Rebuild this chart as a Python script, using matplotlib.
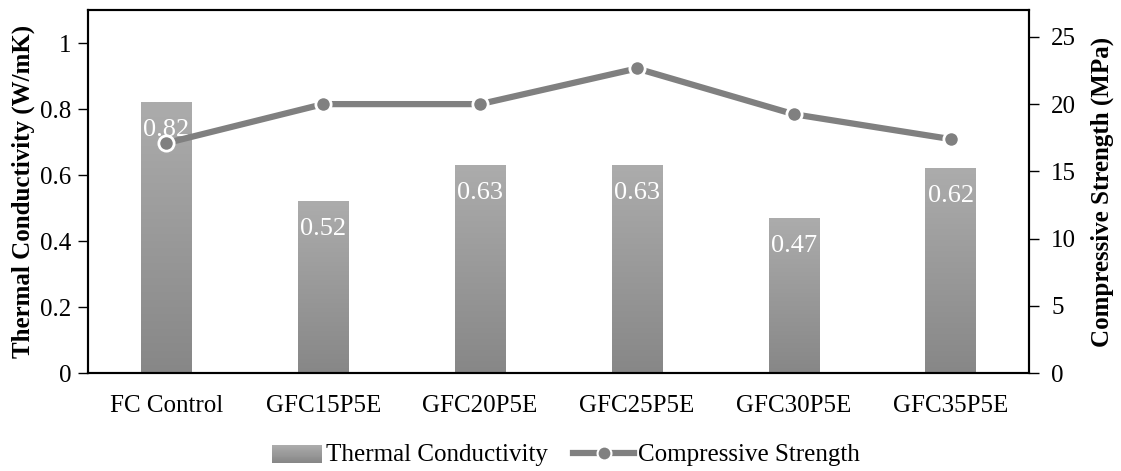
import numpy as np
import matplotlib
matplotlib.use("Agg")
import matplotlib.pyplot as plt
from matplotlib.patches import Rectangle
from matplotlib.lines import Line2D
from matplotlib.colors import LinearSegmentedColormap

plt.rcParams['font.family'] = ['Liberation Serif', 'DejaVu Serif']

mixes = ['FC Control', 'GFC15P5E', 'GFC20P5E', 'GFC25P5E', 'GFC30P5E', 'GFC35P5E']
conductivity = [0.82, 0.52, 0.63, 0.63, 0.47, 0.62]
strength = [17.1, 20.0, 20.0, 22.65, 19.25, 17.4]

grey_fade = LinearSegmentedColormap.from_list('grey_fade', ['#878787', '#acacac'])
line_col = '#808080'
fs = 18

fig = plt.figure(figsize=(11.21, 4.71), dpi=100)
ax = fig.add_axes([88/1121, 1 - 373/471, 941/1121, 363/471])
ax2 = ax.twinx()

x = np.arange(len(mixes))
width = 0.32
grad = np.linspace(0, 1, 256).reshape(-1, 1)

for xi, v in zip(x, conductivity):
    rect = Rectangle((xi - width/2, 0), width, v, facecolor='none', edgecolor='none')
    ax.add_patch(rect)
    im = ax.imshow(grad, cmap=grey_fade, origin='lower', aspect='auto',
                   extent=(xi - width/2, xi + width/2, 0, v), zorder=1)
    im.set_clip_path(rect)
    ax.text(xi, v - 0.085, f'{v:.2f}', ha='center', va='center',
            color='white', fontsize=19, zorder=2)

ax.set_xlim(-0.5, len(mixes) - 0.5)
ax.set_ylim(0, 1.1)
ax.set_yticks([0, 0.2, 0.4, 0.6, 0.8, 1])
ax.set_yticklabels(['0', '0.2', '0.4', '0.6', '0.8', '1'])
ax.set_xticks(x)
ax.set_xticklabels(mixes)
ax.tick_params(axis='x', length=0, pad=16, labelsize=fs)
ax.tick_params(axis='y', length=7, width=1, direction='out', pad=5, labelsize=fs)
ax.set_ylabel('Thermal Conductivity (W/mK)', fontsize=fs, fontweight='bold', labelpad=4)

ax2.plot(x, strength, color=line_col, linewidth=4.5, marker='o', markersize=11,
         markerfacecolor=line_col, markeredgecolor='white', markeredgewidth=2,
         solid_capstyle='butt', zorder=3)
ax2.set_ylim(0, 27)
ax2.set_yticks([0, 5, 10, 15, 20, 25])
ax2.tick_params(axis='y', length=7, width=1, direction='out', pad=9, labelsize=fs)
ax2.set_ylabel('Compressive Strength (MPa)', fontsize=fs, fontweight='bold', labelpad=10)

for a in (ax, ax2):
    for s in a.spines.values():
        s.set_linewidth(1.5)
        s.set_color('black')

class GradientHandler:
    def legend_artist(self, legend, orig_handle, fontsize, handlebox):
        x0, y0 = handlebox.xdescent, handlebox.ydescent
        w, h = handlebox.width, handlebox.height
        bw = w * 0.82
        n = 20
        for i in range(n):
            r = Rectangle((w - bw, y0 + h * i / n - 1), bw, h / n + 0.3,
                          facecolor=grey_fade(i / (n - 1)), edgecolor='none',
                          transform=handlebox.get_transform())
            handlebox.add_artist(r)
        return r

bar_handle = Rectangle((0, 0), 1, 1)
line_handle = Line2D([], [], color=line_col, linewidth=4.5, marker='o', markersize=10,
                     markerfacecolor=line_col, markeredgecolor='white', markeredgewidth=1.5)
fig.legend([bar_handle, line_handle], ['Thermal Conductivity', 'Compressive Strength'],
           loc='center', bbox_to_anchor=(0.5, 1 - 455/471), ncol=2, frameon=False,
           fontsize=fs, handlelength=2.45, handletextpad=0.15, columnspacing=1.0,
           handler_map={Rectangle: GradientHandler()})

fig.savefig('out.png', dpi=100)
